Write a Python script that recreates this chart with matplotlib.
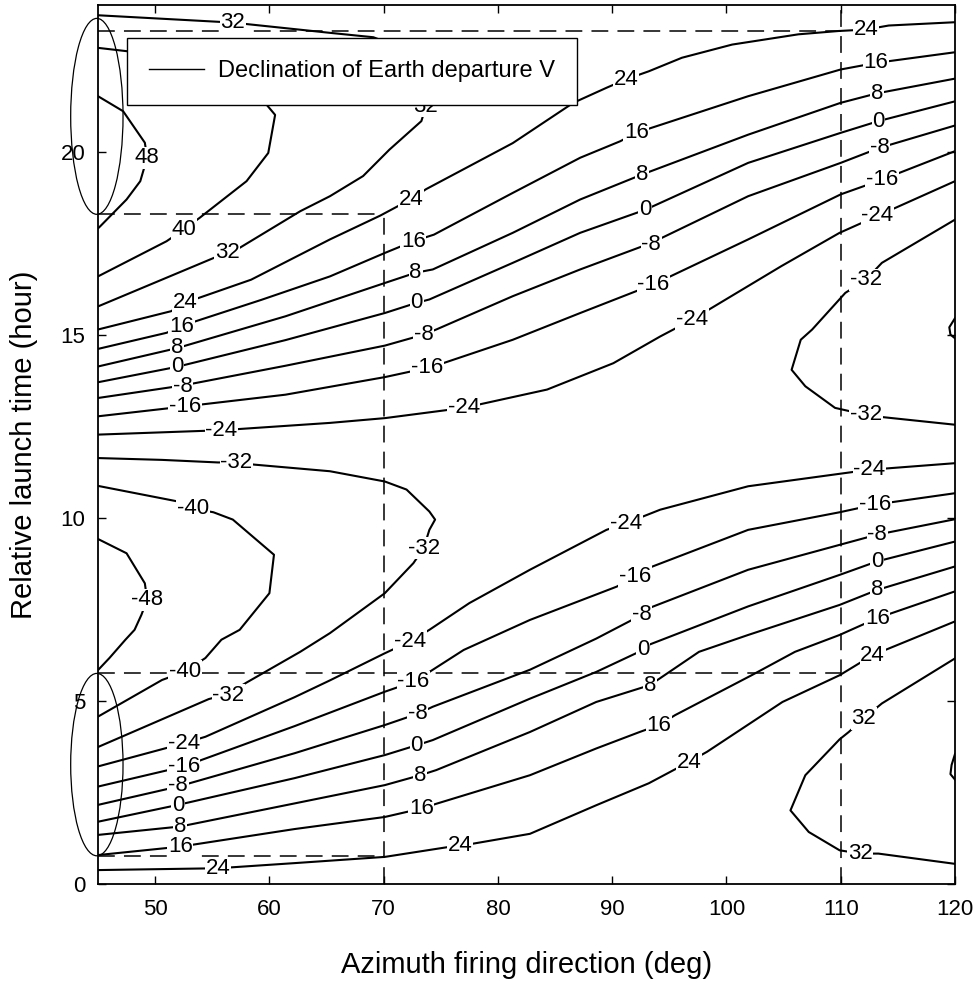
import matplotlib.pyplot as plt
from matplotlib.lines import Line2D
from matplotlib.patches import Ellipse

plt.rcParams['font.family'] = ['Liberation Sans', 'DejaVu Sans']

# declination contours, traced as (azimuth deg, launch time h)
# upper band
p32_top_az = [45, 56.8, 58.3, 65.3, 69.1, 76.0, 73.7, 73.3, 70.5, 68.2, 65.3, 62.7, 57.4, 56.3, 55.1, 45]
p32_top_t = [23.72, 23.52, 23.47, 23.24, 23.12, 22.3, 21.24, 20.83, 20.05, 19.33, 18.78, 18.37, 17.37, 17.23, 17.09, 15.77]
p40_top_az = [45, 47.5, 56.0, 59.8, 60.5, 59.9, 58.0, 53.9, 52.5, 51.0, 45]
p40_top_t = [22.83, 22.74, 22.2, 21.26, 21.0, 19.96, 19.19, 18.19, 17.87, 17.55, 16.59]
p48_top_az = [45, 47.2, 49.1, 49.3, 48.7, 47.5, 45.2, 45]
p48_top_t = [21.51, 21.1, 20.24, 19.83, 19.19, 18.69, 17.96, 17.9]

p24_up_az = [45, 51.4, 52.6, 58.4, 65.3, 69.7, 72.4, 73.7, 81.3, 86.6, 89.5, 91.2, 93.2, 96.1, 100.5, 106.3, 109.8, 112.2, 114.2, 120]
p24_up_t = [15.14, 15.64, 15.87, 16.5, 17.6, 18.25, 18.7, 18.97, 20.23, 21.33, 21.74, 21.97, 22.19, 22.56, 22.92, 23.2, 23.29, 23.33, 23.44, 23.53]
p16_up_az = [45, 51.0, 52.3, 53.5, 59.3, 65.3, 70.1, 72.6, 74.4, 81.3, 87.2, 90.7, 92.1, 101.9, 110, 113.1, 120]
p16_up_t = [14.61, 15.05, 15.23, 15.36, 15.95, 16.59, 17.23, 17.55, 17.73, 18.87, 19.83, 20.28, 20.51, 21.51, 22.24, 22.42, 22.71]
p8_up_az = [45, 51.9, 61.4, 70.1, 72.8, 74.3, 81.3, 87.2, 92.6, 101.9, 110, 113.2, 120]
p8_up_t = [14.13, 14.63, 15.5, 16.41, 16.69, 16.78, 17.78, 18.69, 19.37, 20.46, 21.33, 21.59, 21.99]
z0_up_az = [45, 51.9, 61.4, 70.1, 72.9, 74.0, 81.3, 87.2, 92.9, 101.9, 110, 113.3, 120]
z0_up_t = [13.70, 14.12, 14.85, 15.59, 15.87, 15.96, 16.96, 17.78, 18.41, 19.69, 20.51, 20.83, 21.37]
m8_up_az = [45, 52.4, 61.4, 70.1, 73.5, 74.6, 81.3, 87.2, 93.4, 101.9, 110, 113.4, 120]
m8_up_t = [13.27, 13.61, 14.15, 14.70, 15.0, 15.14, 16.05, 16.78, 17.5, 18.78, 19.69, 20.1, 20.71]
m16_up_az = [45, 52.6, 61.4, 70.1, 73.8, 75.2, 81.3, 87.2, 93.6, 101.9, 110, 113.6, 120]
m16_up_t = [12.77, 13.04, 13.36, 13.84, 14.09, 14.22, 14.86, 15.59, 16.37, 17.6, 18.83, 19.23, 20.01]
m24_up_az = [45, 55.8, 65.3, 70.1, 77.0, 84.3, 90.1, 94.2, 97.0, 104.8, 109.9, 113.2, 120]
m24_up_t = [12.27, 12.39, 12.59, 12.72, 13.0, 13.5, 14.22, 14.95, 15.41, 16.87, 17.78, 18.24, 19.19]
m32_right_az = [120, 113.6, 112.2, 110.4, 107.5, 106.5, 105.7, 106.9, 109.5, 112.2, 113.6, 120]
m32_right_t = [18.14, 16.96, 16.5, 16.14, 15.14, 14.86, 14.04, 13.59, 13.0, 12.81, 12.75, 12.54]
m40_edge_az = [120, 119.5, 119.6, 120]
m40_edge_t = [15.45, 15.2, 15.0, 14.9]

# minimum around 8 h
m32_mid_az = [45, 50.6, 55.5, 57.1, 58.7, 65.3, 70.1, 72.0, 74.0, 74.5, 74.0, 73.5, 72.6, 70.1, 65.3, 62.7, 58.0, 56.3, 54.7, 45]
m32_mid_t = [11.63, 11.58, 11.51, 11.51, 11.45, 11.27, 10.99, 10.77, 10.17, 9.95, 9.67, 9.17, 8.76, 7.94, 6.85, 6.34, 5.5, 5.18, 5.05, 3.74]
m40_mid_az = [45, 51.9, 53.3, 55.1, 56.8, 60.4, 60.0, 57.4, 55.8, 54.4, 52.6, 50.6, 45]
m40_mid_t = [10.87, 10.45, 10.25, 10.15, 9.95, 8.99, 7.94, 6.94, 6.67, 6.17, 5.8, 5.57, 4.57]
m48_mid_az = [45, 47.5, 49.1, 49.3, 48.8, 48.2, 47.4, 46.0, 45]
m48_mid_t = [9.42, 9.03, 8.21, 7.76, 7.35, 6.94, 6.67, 6.17, 5.84]

# lower band
m24_low_az = [45, 52.5, 54.4, 62.2, 65.3, 70.1, 72.3, 74.0, 77.5, 82.8, 89.5, 91.2, 94.2, 101.9, 109.9, 112.5, 120]
m24_low_t = [3.21, 3.84, 4.02, 5.1, 5.56, 6.3, 6.62, 6.94, 7.67, 8.58, 9.67, 9.85, 10.22, 10.86, 11.2, 11.31, 11.49]
m16_low_az = [45, 52.5, 62.2, 70.1, 72.6, 74.0, 77.0, 82.8, 90.4, 92.0, 93.2, 101.9, 109.9, 113.0, 120]
m16_low_t = [2.66, 3.21, 4.31, 5.25, 5.52, 5.79, 6.39, 7.21, 8.12, 8.40, 8.63, 9.67, 10.15, 10.36, 10.67]
m8_low_az = [45, 52.0, 62.2, 70.1, 73.0, 74.3, 82.8, 88.6, 92.6, 93.2, 101.9, 109.9, 113.2, 120]
m8_low_t = [2.16, 2.66, 3.57, 4.34, 4.65, 4.84, 5.85, 6.7, 7.35, 7.53, 8.58, 9.26, 9.54, 9.96]
z0_low_az = [45, 52.0, 62.2, 70.1, 72.9, 74.3, 82.8, 88.6, 92.7, 93.2, 101.9, 109.9, 113.2, 120]
z0_low_t = [1.70, 2.16, 2.89, 3.52, 3.79, 3.93, 5.06, 5.79, 6.39, 6.53, 7.58, 8.44, 8.81, 9.35]
p8_low_az = [45, 52.2, 62.2, 70.1, 73.2, 74.6, 82.8, 88.6, 93.3, 97.6, 101.9, 109.9, 113.2, 120]
p8_low_t = [1.34, 1.57, 2.20, 2.70, 2.97, 3.11, 4.15, 4.97, 5.43, 6.34, 6.8, 7.62, 8.03, 8.67]
p16_low_az = [45, 52.2, 62.2, 70.1, 73.3, 74.6, 82.8, 88.6, 92.4, 94.1, 95.5, 102.2, 106.0, 109.9, 113.2, 120]
p16_low_t = [0.79, 1.02, 1.50, 1.83, 2.06, 2.19, 2.97, 3.70, 4.15, 4.34, 4.61, 5.70, 6.34, 6.80, 7.26, 7.99]
p24_low_az = [45, 55.5, 62.2, 70.1, 76.7, 77.8, 82.8, 88.6, 93.2, 96.7, 98.3, 104.9, 109.9, 112.8, 120]
p24_low_t = [0.38, 0.43, 0.57, 0.74, 1.06, 1.10, 1.37, 2.15, 2.75, 3.33, 3.61, 4.97, 5.70, 6.25, 7.17]
p32_low_az = [120, 113.6, 112.0, 110.7, 109.9, 106.9, 105.6, 107.2, 109.9, 111.7, 113.3, 120]
p32_low_t = [6.16, 4.93, 4.52, 4.15, 3.95, 2.97, 2.01, 1.42, 0.92, 0.83, 0.83, 0.55]
p40_edge_az = [120, 119.7, 119.6, 120]
p40_edge_t = [3.55, 3.25, 3.0, 2.85]

# inline contour labels
lbl_val = [32, 40, 48, 32, 32, 24, 16, 8, 0, -8, -16, -24, -32, -40, -48,
           24, 16, 8, 0, -8, -16, -24, -32,
           24, 16, 8, 0, -8, -16, -24,
           24, 16, 8, 0, -8, -16, -24, -32, -32,
           -24, -16, -8, 0, 8, 16, 24, 32, 32,
           -24, -16, -8, 0, 8, 16, 24,
           -24, -16, -8, 0, 8, 16, 24,
           -40, -32, -24, -16, -8, 0, 8, 16, 24]
lbl_az = [56.8, 52.5, 49.3, 56.3, 73.7, 52.6, 52.3, 51.9, 51.9, 52.4, 52.6, 55.8, 57.1, 53.3, 49.3,
          72.4, 72.6, 72.8, 72.9, 73.5, 73.8, 77.0, 73.5,
          91.2, 92.1, 92.6, 92.9, 93.4, 93.6, 97.0,
          112.2, 113.1, 113.2, 113.3, 113.4, 113.6, 113.2, 112.2, 112.2,
          112.5, 113.0, 113.2, 113.2, 113.2, 113.2, 112.8, 112.0, 111.7,
          91.2, 92.0, 92.6, 92.7, 93.3, 94.1, 96.7,
          72.3, 72.6, 73.0, 72.9, 73.2, 73.3, 76.7,
          52.6, 56.4, 52.5, 52.5, 52.0, 52.0, 52.2, 52.2, 55.5]
lbl_t = [23.52, 17.87, 19.83, 17.23, 21.24, 15.87, 15.23, 14.66, 14.13, 13.59, 13.04, 12.39, 11.51, 10.25, 7.76,
         18.7, 17.55, 16.69, 15.87, 15.0, 14.09, 13.0, 9.17,
         21.97, 20.51, 19.37, 18.41, 17.46, 16.37, 15.41,
         23.33, 22.42, 21.59, 20.83, 20.1, 19.23, 18.24, 16.5, 12.81,
         11.31, 10.36, 9.54, 8.81, 8.03, 7.26, 6.25, 4.52, 0.83,
         9.85, 8.40, 7.35, 6.39, 5.43, 4.34, 3.33,
         6.62, 5.52, 4.65, 3.79, 2.97, 2.06, 1.06,
         5.80, 5.16, 3.84, 3.21, 2.68, 2.14, 1.57, 1.02, 0.43]

# dashed launch-window guides
guide_t = [23.3, 18.3, 5.75, 0.77]
guide_t_end = [110, 70, 110, 70]
guide_az = [70, 110]
guide_az_end = [18.3, 23.9]

# ellipses marking the windows on the 45 deg edge
ell_t = [20.96, 3.26]
ell_h = [5.35, 4.98]

contours = [
    (p32_top_az, p32_top_t), (p40_top_az, p40_top_t), (p48_top_az, p48_top_t),
    (p24_up_az, p24_up_t), (p16_up_az, p16_up_t), (p8_up_az, p8_up_t),
    (z0_up_az, z0_up_t), (m8_up_az, m8_up_t), (m16_up_az, m16_up_t),
    (m24_up_az, m24_up_t), (m32_right_az, m32_right_t), (m40_edge_az, m40_edge_t),
    (m32_mid_az, m32_mid_t), (m40_mid_az, m40_mid_t), (m48_mid_az, m48_mid_t),
    (m24_low_az, m24_low_t), (m16_low_az, m16_low_t), (m8_low_az, m8_low_t),
    (z0_low_az, z0_low_t), (p8_low_az, p8_low_t), (p16_low_az, p16_low_t),
    (p24_low_az, p24_low_t), (p32_low_az, p32_low_t), (p40_edge_az, p40_edge_t),
]

fig = plt.figure(figsize=(9.79, 9.82), dpi=100)
ax = fig.add_axes([0.1001, 0.0998, 0.8754, 0.8951])

for az, t in contours:
    ax.plot(az, t, color='black', lw=1.5, zorder=2)

for v, a, t in zip(lbl_val, lbl_az, lbl_t):
    ax.text(a, t, str(v), fontsize=16, ha='center', va='center', zorder=3,
            bbox=dict(facecolor='white', edgecolor='none', pad=0.5))

for t, a1 in zip(guide_t, guide_t_end):
    ax.plot([45, a1], [t, t], color='black', lw=1.1, ls=(0, (11, 6)), zorder=2.5)
for a, t1 in zip(guide_az, guide_az_end):
    ax.plot([a, a], [0, t1], color='black', lw=1.1, ls=(0, (11, 6)), zorder=2.5)

for tc, h in zip(ell_t, ell_h):
    ax.add_patch(Ellipse((44.9, tc), 4.58, h, fill=False, lw=0.9,
                         color='black', clip_on=False, zorder=4))

ax.set_xlim(45, 120)
ax.set_ylim(0, 24)
ax.set_xticks([50, 60, 70, 80, 90, 100, 110, 120])
ax.set_yticks([0, 5, 10, 15, 20])
ax.tick_params(direction='in', top=True, right=True, length=6, width=1,
               labelsize=16)
ax.tick_params(axis='x', pad=11)
ax.tick_params(axis='y', pad=9)
for s in ax.spines.values():
    s.set_linewidth(1.3)

ax.set_xlabel('Azimuth firing direction (deg)', fontsize=21, labelpad=22)
ax.set_ylabel('Relative launch time (hour)', fontsize=21, labelpad=16)

handle = Line2D([0], [0], color='black', lw=1.0)
leg = ax.legend([handle], ['Declination of Earth departure V'], fontsize=17,
                loc='upper left', bbox_to_anchor=(0.0338, 0.9625),
                borderaxespad=0, borderpad=0.95, handlelength=2.3,
                handletextpad=0.6, fancybox=False, framealpha=1,
                edgecolor='black')
leg.get_frame().set_linewidth(1.0)
leg.set_zorder(6)

fig.savefig('out.png', dpi=100)
